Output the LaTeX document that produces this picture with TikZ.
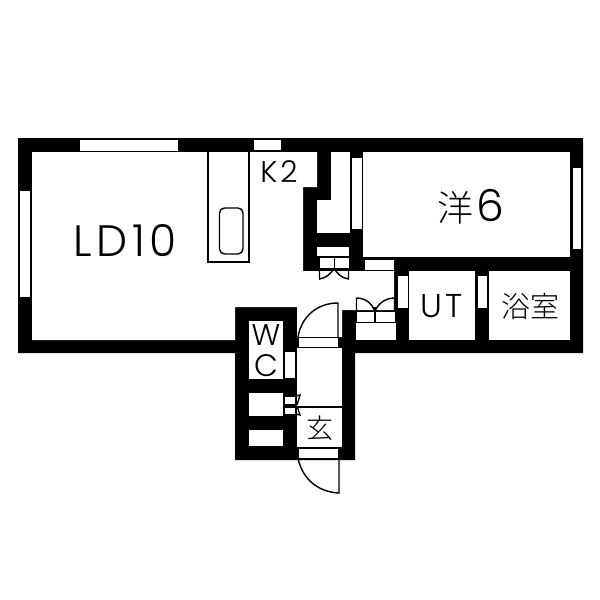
\documentclass[tikz,border=0pt]{standalone}
\usepackage{fontspec}
\setmainfont{Poppins Light}
\newfontfamily\widefont[LetterSpace=10]{Poppins Light}
\newfontfamily\cjk{Noto Sans CJK JP Light}
\tikzset{
	room/.style={fill=white},
	pane/.style={fill=white,draw=black,line width=1pt},
	fit line/.style={draw=black,line width=1.4pt},
	label/.style={inner sep=0pt,anchor=center,text=black},
}
\begin{document}
\begin{tikzpicture}
			[line cap=butt,line join=miter,x=1pt,y=-1pt]
			\useasboundingbox (0,0) rectangle (600,600);
			\fill[white] (0,0) rectangle (600,600);
			% outer walls
			\fill[black] (18,138) -- (583,138) -- (583,353) -- (355,353) -- (355,460) -- (235,460) -- (235,353) -- (18,353) -- cycle;
			% LD, kitchen and hall
			\fill[room] (32,152) -- (317,152) -- (317,187) -- (303,187) -- (303,271) -- (394,271) -- (394,310) -- (342,310) -- (342,337) -- (297,337) -- (297,307) -- (235,307) -- (235,340) -- (32,340) -- cycle;
			\fill[room] (331,152) rectangle (350,200);
			\fill[room] (317,200) rectangle (350,233);
			% rooms
			\fill[room] (363,152) rectangle (570,257);
			\fill[room] (409,271) rectangle (475,340);
			\fill[room] (489,271) rectangle (570,340);
			\fill[room] (356,323) rectangle (396,340);
			\fill[room] (249,321) rectangle (283,379);
			\fill[room] (249,393) rectangle (283,416);
			\fill[room] (249,430) rectangle (283,446);
			\fill[room] (297,348) rectangle (342,447);
			\draw[fit line] (297,407) -- (342,407);
			% windows
			\filldraw[pane] (79,139.5) rectangle (178,151);
			\filldraw[pane] (253,139.5) rectangle (281,150.5);
			\filldraw[pane] (19.5,190) rectangle (30,297);
			\filldraw[pane] (572,167) rectangle (581.5,249);
			\filldraw[pane] (351,157) rectangle (362,229);
			% door strips
			\filldraw[pane] (364,259) rectangle (394,270);
			\filldraw[pane] (397,275) rectangle (408,308);
			\filldraw[pane] (477,275) rectangle (487,308);
			\filldraw[pane] (284,351) rectangle (295,378);
			\filldraw[pane] (284,396) rectangle (295,404);
			\filldraw[pane] (284,407) rectangle (295,414);
			\filldraw[pane] (298,337) rectangle (338,347.5);
			\filldraw[pane] (298,448) rectangle (338,458);
			% kitchen
			\draw[fit line] (208,152) -- (208,262) -- (249,262) -- (249,152);
			\draw[fit line,rounded corners=5pt] (219.5,208) rectangle (243,254);
			% closet by the bedroom
			\fill[room] (317,247) rectangle (349,256);
			\fill[room] (319.5,258) rectangle (333.5,268);
			\fill[room] (335,258) rectangle (349,268);
			\draw[fit line] (319.5,268) -- (319.5,279) .. controls (326,278) and (331,274) .. (334,268);
			\draw[fit line] (348.5,268) -- (348.5,279) .. controls (342,278) and (337,274) .. (334,268);
			% closet in the hall
			\filldraw[pane] (356.5,311.5) rectangle (395,322.5);
			\draw[line width=2pt] (375,307) -- (375,322.5);
			\draw[fit line] (356.5,311.5) -- (356.5,298) .. controls (366,298) and (372,304) .. (375,311);
			\draw[fit line] (394.5,311.5) -- (394.5,298) .. controls (385,298) and (378,304) .. (375,311);
			% front doors
			\draw[fit line] (338,337) -- (338,303) .. controls (316,303) and (301,318) .. (298,337);
			\draw[fit line] (339,458) -- (339,493) .. controls (317,492) and (302,478) .. (298,458);
			% small doors of the shoe closet
			\draw[fit line] (295,396) -- (300,395) -- (297,405);
			\draw[fit line] (295,414) -- (300,415) -- (297,406);
			% labels
			\node[label,font=\widefont\fontsize{44}{44}\selectfont] (ld) at (125,241) {LD10};
			\node[label,font=\widefont\fontsize{30}{30}\selectfont] (kitchen) at (279,172) {K2};
			\node[label,font=\fontsize{44}{44}\selectfont] (bedroom) at (471,207) {{\cjk\fontsize{36}{36}\selectfont 洋}\hspace{3pt}6};
			\node[label,font=\widefont\fontsize{33}{33}\selectfont] (ut) at (442,306) {UT};
			\node[label,font=\cjk\fontsize{29}{29}\selectfont] (bath) at (530,306) {浴室};
			\node[label,font=\fontsize{30}{30}\selectfont] (wcw) at (266,335) {W};
			\node[label,font=\fontsize{31}{31}\selectfont] (wcc) at (266,366) {C};
			\node[label,font=\cjk\fontsize{27}{27}\selectfont] (entry) at (320,428) {玄};
		\end{tikzpicture}
\end{document}
